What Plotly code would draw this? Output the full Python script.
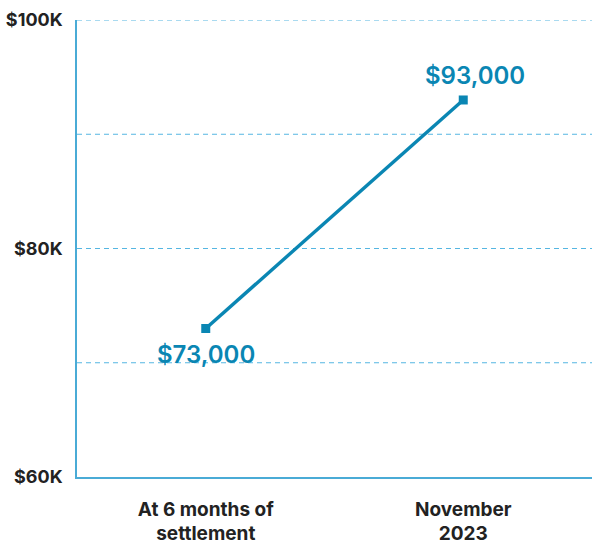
import plotly.graph_objects as go

categories = ["At 6 months of<br>settlement", "November<br>2023"]
values = [73000, 93000]
value_labels = ["$73,000", "$93,000"]
tick_vals = [60000, 80000, 100000]
tick_text = ["$60K", "$80K", "$100K"]

line_color = "#0a86b3"
grid_color = "#55b6e2"

fig = go.Figure()
fig.add_trace(go.Scatter(
    x=categories, y=values, mode="lines+markers",
    line=dict(color=line_color, width=3.4),
    marker=dict(symbol="square", size=9, color=line_color),
    hoverinfo="skip", showlegend=False,
))

for g in [70000, 80000, 90000, 100000]:
    fig.add_shape(type="line", xref="paper", x0=0, x1=1, yref="y", y0=g, y1=g,
                  line=dict(color=grid_color, width=1, dash="5px,4px"), layer="below")

shifts = [(0, -26), (12, 24)]
for c, v, t, (dx, dy) in zip(categories, values, value_labels, shifts):
    fig.add_annotation(x=c, y=v, text=t, showarrow=False, xshift=dx, yshift=dy,
                       font=dict(family="Inter", size=24, color=line_color, weight=600))

fig.update_layout(
    width=592, height=548,
    margin=dict(l=77, r=0, t=20, b=71),
    plot_bgcolor="white", paper_bgcolor="white",
    font=dict(family="Inter", color="#222222"),
)
fig.update_xaxes(
    range=[-0.5, 1.5], showgrid=False, zeroline=False, automargin=False,
    showline=True, linecolor="#4aabd6", linewidth=1.5,
    ticks="", tickfont=dict(size=19, family="Inter", color="#222222", weight=700),
    ticklabelstandoff=14,
)
fig.update_yaxes(
    range=[60000, 100000], showgrid=False, zeroline=False, automargin=False,
    showline=True, linecolor="#4aabd6", linewidth=1.5,
    tickvals=tick_vals, ticktext=tick_text, ticks="",
    tickfont=dict(size=18, family="Inter", color="#222222", weight=700),
    ticklabelstandoff=9,
)
fig.write_html("out.html", config={"displayModeBar": False},
               post_script="document.body.style.margin='0';document.body.style.padding='0';")
